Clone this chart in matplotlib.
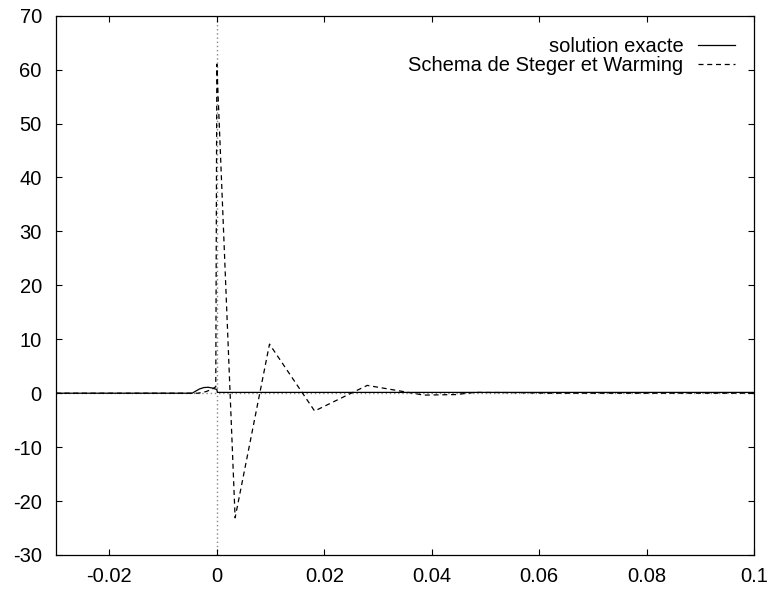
import matplotlib
matplotlib.use("Agg")
import matplotlib.pyplot as plt
from matplotlib.ticker import FuncFormatter, MultipleLocator

plt.rcParams['font.family'] = ['Liberation Sans', 'DejaVu Sans']
plt.rcParams['axes.unicode_minus'] = False

# exact solution
x_exact = [-0.03, -0.0046, -0.0040, -0.0032, -0.0024, -0.0016, -0.0008, -0.0002, 0.0, 0.0001, 0.1]
y_exact = [0.0, 0.0, 0.35, 0.8, 1.05, 1.1, 0.95, 0.75, 0.7, 0.15, 0.15]

# Steger-Warming scheme
x_sw = [-0.03, -0.0035, -0.0020, -0.0008, -0.0002, 0.0, 0.0034, 0.0098, 0.0182, 0.0280,
        0.0365, 0.0385, 0.0445, 0.0480, 0.0560, 0.0620, 0.1]
y_sw = [0.0, 0.0, 0.3, 0.8, 1.2, 61.0, -23.1, 9.1, -3.3, 1.45,
        0.0, -0.35, -0.25, 0.15, 0.1, 0.0, 0.0]

labels = ["solution exacte", "Schema de Steger et Warming"]
xlim = (-0.03, 0.1)
ylim = (-30, 70)

fig = plt.figure(figsize=(7.7, 5.91), dpi=100)
ax = fig.add_axes([55.7 / 770, 36 / 591, (754 - 55.7) / 770, (555 - 15.7) / 591])

ax.axhline(0, color='#888888', lw=1.0, ls=(0, (1, 2)), zorder=1)
ax.axvline(0, color='#888888', lw=1.0, ls=(0, (1, 2)), zorder=1)

ax.plot(x_exact, y_exact, color='black', lw=0.9, label=labels[0], zorder=3)
ax.plot(x_sw, y_sw, color='black', lw=0.9, ls=(0, (4, 3)), label=labels[1], zorder=2)

ax.set_xlim(*xlim)
ax.set_ylim(*ylim)
ax.xaxis.set_major_locator(MultipleLocator(0.02))
ax.yaxis.set_major_locator(MultipleLocator(10))
fmt = FuncFormatter(lambda v, p: ('%g' % round(v, 10)))
ax.xaxis.set_major_formatter(fmt)
ax.yaxis.set_major_formatter(fmt)
ax.tick_params(direction='in', length=4.3, width=0.8, top=True, right=True,
               labelsize=14.5, pad=9)
ax.tick_params(axis='y', pad=10)
for s in ax.spines.values():
    s.set_linewidth(0.9)

ax.legend(loc='upper right', frameon=False, markerfirst=False, fontsize=14.5,
          handlelength=1.84, handletextpad=0.75, borderaxespad=0.4, labelspacing=0.0,
          bbox_to_anchor=(0.9965, 0.99))

fig.savefig('out.png', dpi=100)
